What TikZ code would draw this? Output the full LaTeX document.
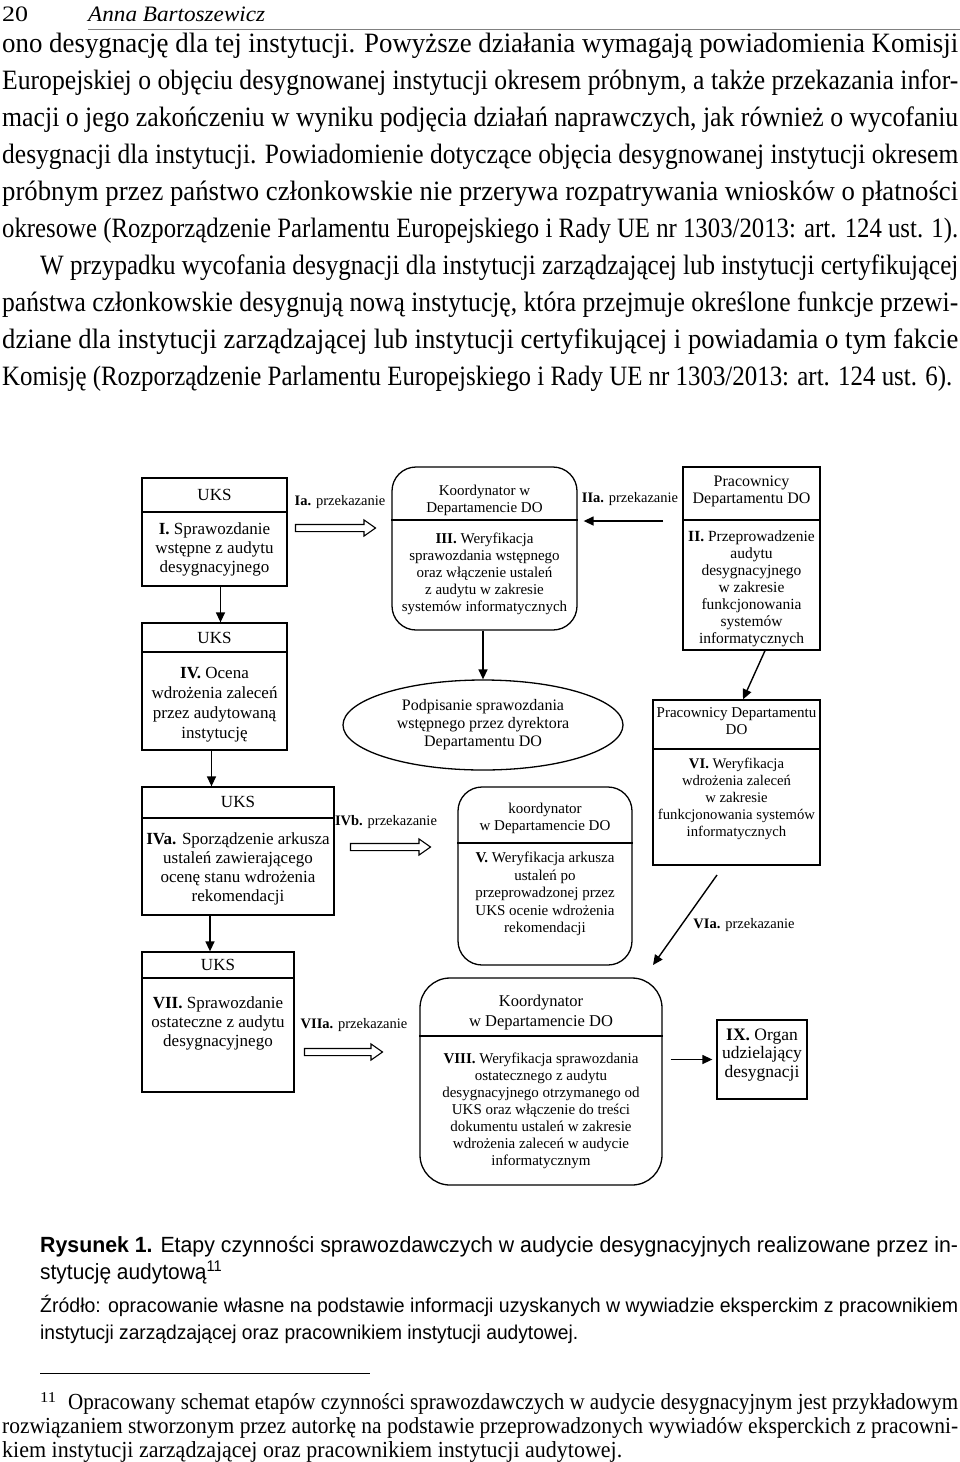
\documentclass[tikz,border=0pt]{standalone}
\usepackage{fontspec}
\setmainfont{Liberation Serif}
\setsansfont{Liberation Sans}
\usepackage{graphicx}
\usetikzlibrary{shapes.geometric,shapes.arrows,arrows.meta}
\newcommand{\jl}[2]{\resizebox{#1}{\height}{#2}}
\newcommand{\fs}[2]{\fontsize{#1}{#2}\selectfont}
\begin{document}
\begin{tikzpicture}[x=1pt,y=-1pt,
  box/.style={draw, line width=1.3pt, inner sep=0pt},
  rbox/.style={box, rounded corners=24pt},
  txt/.style={align=center, inner sep=0pt},
  big/.style={txt, font=\fs{17}{19}},
  small/.style={txt, font=\fs{15}{17}},
  lab/.style={inner sep=0pt, font=\fs{14.5}{17}},
  divl/.style={line width=1.3pt},
  arr/.style={line width=1.4pt, -{Triangle[length=10pt,width=9pt]}},
  fat/.style={single arrow, draw, line width=1.1pt, inner sep=3pt,
    single arrow head extend=4.5pt, single arrow tip angle=70, minimum height=80pt},
  ln/.style={anchor=base west, inner sep=0pt}
]
\useasboundingbox (0,0) rectangle (960,1462);
\fill[white] (0,0) rectangle (960,1462);

% header
\node[ln] (pg) at (2,21) {\jl{26pt}{\fs{22}{26}20}};
\node[ln] (au) at (88,21) {\jl{177pt}{\fs{22}{26}\itshape Anna Bartoszewicz}};
\coordinate (hr1) at (88,29);
\coordinate (hr2) at (960,29);
\draw[gray, line width=1pt] (hr1) -- (hr2);

% body text
\node[ln] (t1) at (2,52) {\jl{956pt}{\fs{28}{37}ono desygnację dla tej instytucji. Powyższe działania wymagają powiadomienia Komisji}};
\node[ln] (t2) at (2,89) {\jl{956pt}{\fs{28}{37}Europejskiej o objęciu desygnowanej instytucji okresem próbnym, a także przekazania infor-}};
\node[ln] (t3) at (2,126) {\jl{956pt}{\fs{28}{37}macji o jego zakończeniu w wyniku podjęcia działań naprawczych, jak również o wycofaniu}};
\node[ln] (t4) at (2,163) {\jl{956pt}{\fs{28}{37}desygnacji dla instytucji. Powiadomienie dotyczące objęcia desygnowanej instytucji okresem}};
\node[ln] (t5) at (2,200) {\jl{956pt}{\fs{28}{37}próbnym przez państwo członkowskie nie przerywa rozpatrywania wniosków o płatności}};
\node[ln] (t6) at (2,237) {\jl{956pt}{\fs{28}{37}okresowe (Rozporządzenie Parlamentu Europejskiego i Rady UE nr 1303/2013: art. 124 ust. 1).}};
\node[ln] (t7) at (40,274) {\jl{918pt}{\fs{28}{37}W przypadku wycofania desygnacji dla instytucji zarządzającej lub instytucji certyfikującej}};
\node[ln] (t8) at (2,311) {\jl{956pt}{\fs{28}{37}państwa członkowskie desygnują nową instytucję, która przejmuje określone funkcje przewi-}};
\node[ln] (t9) at (2,348) {\jl{956pt}{\fs{28}{37}dziane dla instytucji zarządzającej lub instytucji certyfikującej i powiadamia o tym fakcie}};
\node[ln] (t10) at (2,385) {\jl{950pt}{\fs{28}{37}Komisję (Rozporządzenie Parlamentu Europejskiego i Rady UE nr 1303/2013: art. 124 ust. 6).}};

% ---------- diagram ----------
% Box 1
\node[box, minimum width=145pt, minimum height=108pt] (b1) at (214.5,532) {};
\coordinate (d1) at (0,512);
\draw[divl] (b1.west |- d1) -- (b1.east |- d1);
\node[big] (b1h) at (214.5,495) {UKS};
\node[big] (b1t) at (214.5,549) {\textbf{I.} Sprawozdanie\\wstępne z audytu\\desygnacyjnego};

% Box 2
\node[box, minimum width=145pt, minimum height=127pt] (b2) at (214.5,686.5) {};
\coordinate (d2) at (0,652);
\draw[divl] (b2.west |- d2) -- (b2.east |- d2);
\node[big] (b2h) at (214.5,637.5) {UKS};
\node[big, font=\fs{17}{20}] (b2t) at (214.5,705) {\textbf{IV.} Ocena\\wdrożenia zaleceń\\przez audytowaną\\instytucję};

% Box 3
\node[box, minimum width=192pt, minimum height=128pt] (b3) at (238,851) {};
\coordinate (d3) at (0,818);
\draw[divl] (b3.west |- d3) -- (b3.east |- d3);
\node[big] (b3h) at (238,802) {UKS};
\node[big] (b3t) at (238,869) {\textbf{IVa.} Sporządzenie arkusza\\ustaleń zawierającego\\ocenę stanu wdrożenia\\rekomendacji};

% Box 4
\node[box, minimum width=152pt, minimum height=140pt] (b4) at (218,1022) {};
\coordinate (d4) at (0,978);
\draw[divl] (b4.west |- d4) -- (b4.east |- d4);
\node[big] (b4h) at (218,965) {UKS};
\node[big] (b4t) at (218,1023) {\textbf{VII.} Sprawozdanie\\ostateczne z audytu\\desygnacyjnego};

% Box III (rounded)
\node[rbox, minimum width=185pt, minimum height=163pt] (r3) at (484.5,548.5) {};
\coordinate (d5) at (0,520);
\draw[divl] (r3.west |- d5) -- (r3.east |- d5);
\node[small] (r3h) at (484.5,500) {Koordynator w\\Departamencie DO};
\node[small] (r3t) at (484.5,574) {\textbf{III.} Weryfikacja\\sprawozdania wstępnego\\oraz włączenie ustaleń\\z audytu w zakresie\\systemów informatycznych};

% Box II
\node[box, minimum width=137pt, minimum height=183pt] (b5) at (751.5,558.5) {};
\draw[divl] (b5.west |- d5) -- (b5.east |- d5);
\node[txt, font=\fs{16}{17}] (b5h) at (751.5,491.5) {Pracownicy\\Departamentu DO};
\node[txt, font=\fs{15.5}{17}] (b5t) at (751.5,589) {\textbf{II.} Przeprowadzenie\\audytu\\desygnacyjnego\\w zakresie\\funkcjonowania\\systemów\\informatycznych};

% Ellipse
\node[ellipse, draw, line width=1.3pt, inner sep=0pt, minimum width=280pt, minimum height=90pt,
      align=center, font=\fs{16}{18}] (el) at (483,725) {Podpisanie sprawozdania\\wstępnego przez dyrektora\\Departamentu DO};

% Box V (rounded)
\node[rbox, minimum width=174pt, minimum height=178pt] (r5) at (545,876) {};
\coordinate (d6) at (0,843);
\draw[divl] (r5.west |- d6) -- (r5.east |- d6);
\node[small] (r5h) at (545,818.5) {koordynator\\w Departamencie DO};
\node[small, font=\fs{15}{17.5}] (r5t) at (545,894) {\textbf{V.} Weryfikacja arkusza\\ustaleń po\\przeprowadzonej przez\\UKS ocenie wdrożenia\\rekomendacji};

% Box VI
\node[box, minimum width=167pt, minimum height=165pt] (b6) at (736.5,782.5) {};
\coordinate (d7) at (0,749);
\draw[divl] (b6.west |- d7) -- (b6.east |- d7);
\node[small] (b6h) at (736.5,721.5) {Pracownicy Departamentu\\DO};
\node[small, font=\fs{14.7}{17}] (b6t) at (736.5,799) {\textbf{VI.} Weryfikacja\\wdrożenia zaleceń\\w zakresie\\funkcjonowania systemów\\informatycznych};

% Box VIII (rounded)
\node[rbox, rounded corners=30pt, minimum width=242pt, minimum height=207pt] (r8) at (541,1081.5) {};
\coordinate (d8) at (0,1036);
\draw[divl] (r8.west |- d8) -- (r8.east |- d8);
\node[txt, font=\fs{16.5}{20}] (r8h) at (541,1013) {Koordynator\\w Departamencie DO};
\node[small] (r8t) at (541,1111) {\textbf{VIII.} Weryfikacja sprawozdania\\ostatecznego z audytu\\desygnacyjnego otrzymanego od\\UKS oraz włączenie do treści\\dokumentu ustaleń w zakresie\\wdrożenia zaleceń w audycie\\informatycznym};

% Box IX
\node[box, minimum width=90pt, minimum height=79pt] (b9) at (762,1059.5) {};
\node[txt, font=\fs{17.5}{18.5}] (b9t) at (762,1055) {\textbf{IX.} Organ\\udzielający\\desygnacji};

% labels
\node[lab] (la) at (340,502) {\textbf{Ia.} przekazanie};
\node[lab] (lb) at (630,499) {\textbf{IIa.} przekazanie};
\node[lab] (lc) at (386,822) {\textbf{IVb.} przekazanie};
\node[lab] (ld) at (744,925) {\textbf{VIa.} przekazanie};
\node[lab] (le) at (354,1025) {\textbf{VIIa.} przekazanie};

% hollow arrows
\node[fat] (fa) at (333,528) {};
\node[fat] (fb) at (388,847) {};
\node[fat, minimum height=78pt] (fc) at (341,1052) {};

% connectors
\draw[arr] ([xshift=6pt]b1.south) -- ([xshift=6pt]b1.south |- b2.north);
\draw[arr] ([xshift=-3pt]b2.south) -- ([xshift=-3pt]b2.south |- b3.north);
\draw[arr] ([xshift=-28pt]b3.south) -- ([xshift=-28pt]b3.south |- b4.north);
\draw[arr] (el.north |- r3.south) -- (el.north);
\coordinate (iia) at (663,521);
\draw[arr, shorten >=6pt] (iia) -- (r3.east |- iia);
\draw[arr] ([xshift=13.5pt]b5.south) -- ([xshift=6.5pt]b6.north);
\coordinate (via1) at (717,875);
\coordinate (via2) at (653,965);
\draw[arr] (via1) -- (via2);
\draw[arr, shorten <=8pt, shorten >=4pt] (r8.east |- b9.west) -- (b9.west);

% caption
\node[ln] (c1) at (40,1252) {\jl{918pt}{\sffamily\fs{22}{27}\textbf{Rysunek 1.} Etapy czynności sprawozdawczych w audycie desygnacyjnych realizowane przez in-}};
\node[ln] (c2) at (40,1279) {\jl{182pt}{\sffamily\fs{22}{27}stytucję audytową\textsuperscript{11}}};
\node[ln] (s1) at (40,1312) {\jl{918pt}{\sffamily\fs{20}{27}Źródło: opracowanie własne na podstawie informacji uzyskanych w wywiadzie eksperckim z pracownikiem}};
\node[ln] (s2) at (40,1339) {\jl{538pt}{\sffamily\fs{20}{27}instytucji zarządzającej oraz pracownikiem instytucji audytowej.}};

% footnote
\coordinate (fr1) at (40,1373);
\coordinate (fr2) at (370,1373);
\draw[line width=0.9pt] (fr1) -- (fr2);
\node[ln] (f0) at (40,1402) {\jl{16pt}{\fs{15}{20}11}};
\node[ln] (f1) at (68,1409) {\jl{890pt}{\fs{23}{25}Opracowany schemat etapów czynności sprawozdawczych w audycie desygnacyjnym jest przykładowym}};
\node[ln] (f2) at (2,1433) {\jl{956pt}{\fs{23}{25}rozwiązaniem stworzonym przez autorkę na podstawie przeprowadzonych wywiadów eksperckich z pracowni-}};
\node[ln] (f3) at (2,1457) {\jl{620pt}{\fs{23}{25}kiem instytucji zarządzającej oraz pracownikiem instytucji audytowej.}};
\end{tikzpicture}
\end{document}
